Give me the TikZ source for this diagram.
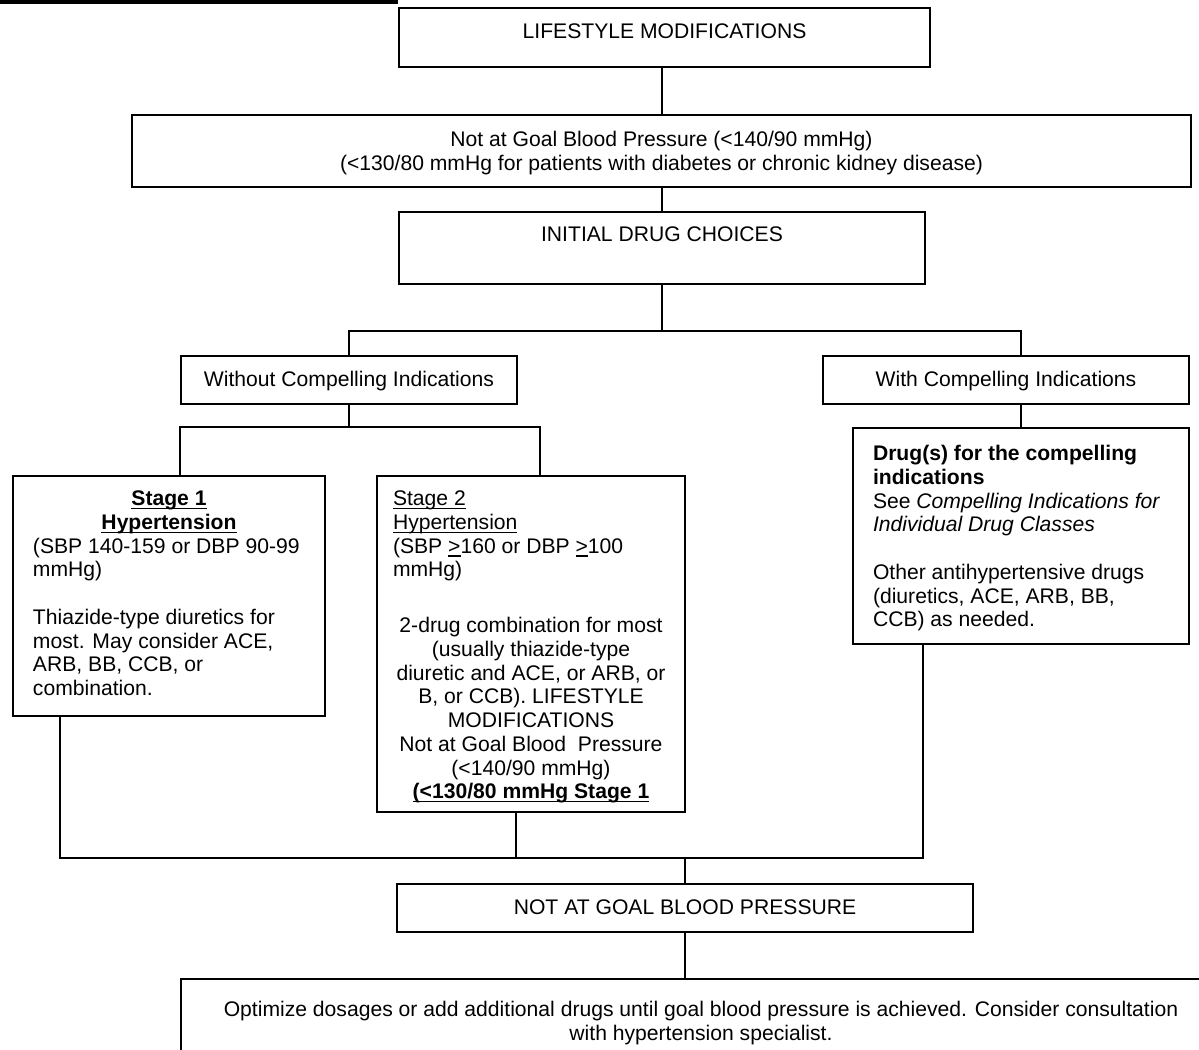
\documentclass[tikz,border=0pt]{standalone}
\usepackage{fontspec}
\setmainfont{Liberation Sans}
\newlength{\px}
\setlength{\px}{0.568pt}
\newcommand{\Cadre}[3]{\begin{minipage}[t][#2\px][t]{#1\px}#3\end{minipage}}
\newcommand{\Souligne}[1]{\leavevmode\setbox0\hbox{#1}\rlap{\rule[-2pt]{\wd0}{0.7pt}}\box0\relax}
\begin{document}
\begin{tikzpicture}[x=\px,y=-\px]
		\tikzstyle{boite}=[draw,line width=2\px,inner sep=0pt,anchor=north west,font=\fontsize{12}{13.5}\selectfont]
		\tikzstyle{trait}=[line width=2\px]
		
		\def\Blanc{13.5pt}
		\def\Retrait{20\px}
		
		\useasboundingbox (0,0) rectangle (1199,1049);
		\clip (0,0) rectangle (1199,1049);
		\draw[line width=4\px] (0,1.5) -- (398,1.5);
		
		\node[boite] (modif) at (398,7) {\Cadre{531}{59}{\centering\rule{0pt}{30.5\px}LIFESTYLE MODIFICATIONS}};
		\node[boite] (nonbut) at (131,114) {\Cadre{1059}{72}{\centering\rule{0pt}{31.5\px}Not at Goal Blood Pressure (<140/90 mmHg)\\(<130/80 mmHg for patients with diabetes or chronic kidney disease)}};
		\node[boite] (choix) at (398,211) {\Cadre{526}{72}{\centering\rule{0pt}{29.5\px}INITIAL DRUG CHOICES}};
		\node[boite] (sans) at (180,355) {\Cadre{336}{48}{\centering\rule{0pt}{30.5\px}Without Compelling Indications}};
		\node[boite] (avec) at (822,355) {\Cadre{366}{48}{\centering\rule{0pt}{30.5\px}With Compelling Indications}};
		\node[boite] (stadeA) at (12,475) {\Cadre{312}{240}{%
			{\centering\rule{0pt}{29.5\px}\Souligne{\textbf{Stage 1}}\\\Souligne{\textbf{Hypertension}}\par}
			{\raggedright\leftskip=\Retrait (SBP 140-159 or DBP 90-99\\mmHg)\\[\Blanc]Thiazide-type diuretics for\\most. May consider ACE,\\ARB, BB, CCB, or\\combination.\par}}};
		\node[boite] (stadeB) at (376,475) {\Cadre{308}{336}{%
			{\raggedright\leftskip=16\px\rule{0pt}{29.5\px}\Souligne{Stage 2}\\\Souligne{Hypertension}\\(SBP \Souligne{>}160 or DBP \Souligne{>}100\\mmHg)\par}
			\vspace{32\px}
			{\centering 2-drug combination for most\\(usually thiazide-type\\diuretic and ACE, or ARB, or\\B, or CCB). LIFESTYLE\\MODIFICATIONS\\Not at Goal Blood\ \ Pressure\\(<140/90 mmHg)\\\Souligne{\textbf{(<130/80 mmHg Stage 1}}\par}}};
		\node[boite] (indic) at (852,427) {\Cadre{336}{216}{%
			{\raggedright\leftskip=\Retrait\rule{0pt}{32.5\px}\textbf{Drug(s) for the compelling\\indications}\\See \textit{Compelling Indications for\\Individual Drug Classes}\\[\Blanc]Other antihypertensive drugs\\(diuretics, ACE, ARB, BB,\\CCB) as needed.\par}}};
		\node[boite] (pasbut) at (396,883) {\Cadre{576}{48}{\centering\rule{0pt}{30.5\px}NOT AT GOAL BLOOD PRESSURE}};
		\node[boite] (optim) at (180,978) {\Cadre{1040}{100}{\centering\rule{0pt}{37.5\px}Optimize dosages or add additional drugs until goal blood pressure is achieved. Consider consultation\\with hypertension specialist.}};
		
		\coordinate (noeudA) at (661,331);
		\coordinate (noeudB) at (348,427);
		\coordinate (noeudBg) at (180,427);
		\coordinate (noeudBd) at (540,427);
		\coordinate (noeudCg) at (60,858);
		\coordinate (noeudCm) at (516,858);
		\coordinate (noeudCd) at (923,858);
		
		\draw[trait] (choix.north |- modif.south) -- (choix.north |- nonbut.north);
		\draw[trait] (choix.north |- nonbut.south) -- (choix.north);
		\draw[trait] (choix.south) -- (choix.south |- noeudA);
		\draw[trait] (sans.north) |- (noeudA) -| (avec.north -| indic.north);
		\draw[trait] (avec.south -| indic.north) -- (indic.north);
		\draw[trait] (sans.south) -- (sans.south |- noeudB);
		\draw[trait] (noeudBg |- stadeA.north) -- (noeudBg) -- (noeudBd) -- (noeudBd |- stadeB.north);
		\draw[trait] (noeudCg |- stadeA.south) -- (noeudCg) -- (noeudCd) -- (noeudCd |- indic.south);
		\draw[trait] (noeudCm |- stadeB.south) -- (noeudCm);
		\draw[trait] (pasbut.north |- noeudCm) -- (pasbut.north);
		\draw[trait] (pasbut.south) -- (pasbut.south |- optim.north);
	\end{tikzpicture}
\end{document}
